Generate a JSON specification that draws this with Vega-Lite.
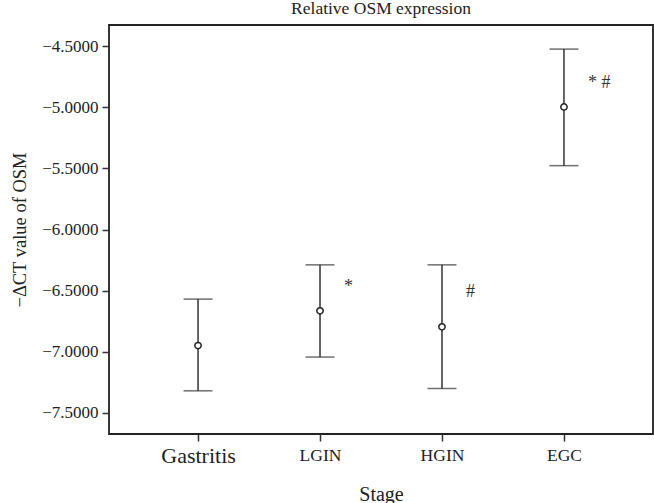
{
  "$schema": "https://vega.github.io/schema/vega-lite/v6.json",
  "autosize": {"type": "none"},
  "width": 544,
  "height": 409,
  "padding": {"left": 109, "top": 25, "right": 1, "bottom": 69},
  "background": "white",
  "title": {"text": "Relative OSM expression", "font": "Liberation Serif", "fontSize": 17.5, "fontWeight": "normal", "color": "#222", "anchor": "middle", "frame": "group", "offset": 0, "baseline": "bottom", "dy": 10},
  "config": {
    "view": {"stroke": "#222", "strokeWidth": 1.8},
    "font": "Liberation Serif"
  },
  "data": {"values": [
    {"stage": "Gastritis", "mean": -6.949, "lower": -7.319, "upper": -6.569, "note": "", "note_y": -6.5},
    {"stage": "LGIN", "mean": -6.665, "lower": -7.043, "upper": -6.289, "note": "*", "note_y": -6.469},
    {"stage": "HGIN", "mean": -6.796, "lower": -7.300, "upper": -6.289, "note": "#", "note_y": -6.512},
    {"stage": "EGC", "mean": -4.998, "lower": -5.478, "upper": -4.525, "note": "* #", "note_y": -4.80}
  ]},
  "encoding": {
    "x": {"field": "stage", "type": "nominal", "sort": ["Gastritis", "LGIN", "HGIN", "EGC"],
      "scale": {"type": "point", "padding": 0.73},
      "axis": {"title": "Stage", "titleFont": "Liberation Serif", "titleFontSize": 20, "titleFontWeight": "normal", "titleColor": "#222", "titlePadding": 18,
        "labelFont": "Liberation Serif", "labelFontSize": {"condition": {"test": "datum.value == 'Gastritis'", "value": 22}, "value": 17.5}, "labelColor": "#222", "labelPadding": 14, "labelBaseline": "middle",
        "labelAngle": 0, "tickSize": 7, "tickColor": "#333", "tickWidth": 1.5, "domain": false, "grid": false}}
  },
  "layer": [
    {"mark": {"type": "rule", "color": "#333", "strokeWidth": 1.5},
      "encoding": {
        "y": {"field": "lower", "type": "quantitative",
          "scale": {"domain": [-7.672, -4.328], "nice": false, "zero": false},
          "axis": {"title": "−ΔCT value of OSM", "titleFont": "Liberation Serif", "titleFontSize": 18.5, "titleFontWeight": "normal", "titleColor": "#222", "titleX": -80,
            "values": [-7.5, -7, -6.5, -6, -5.5, -5, -4.5], "format": ".4f",
            "labelFont": "Liberation Serif", "labelFontSize": 17, "labelColor": "#222", "labelPadding": 4,
            "tickSize": 7, "tickColor": "#333", "tickWidth": 1.5, "domain": false, "grid": false}},
        "y2": {"field": "upper"}
      }},
    {"mark": {"type": "tick", "orient": "horizontal", "color": "#333", "size": 29, "thickness": 1.5},
      "encoding": {"y": {"field": "upper", "type": "quantitative"}}},
    {"mark": {"type": "tick", "orient": "horizontal", "color": "#333", "size": 29, "thickness": 1.5},
      "encoding": {"y": {"field": "lower", "type": "quantitative"}}},
    {"mark": {"type": "point", "shape": "circle", "filled": true, "fill": "white", "stroke": "#222", "strokeWidth": 1.5, "size": 40, "opacity": 1},
      "encoding": {"y": {"field": "mean", "type": "quantitative"}}},
    {"mark": {"type": "text", "font": "Liberation Serif", "fontSize": 18, "color": "#333", "align": "left", "dx": 24, "baseline": "middle"},
      "encoding": {"y": {"field": "note_y", "type": "quantitative"}, "text": {"field": "note"}}}
  ]
}
